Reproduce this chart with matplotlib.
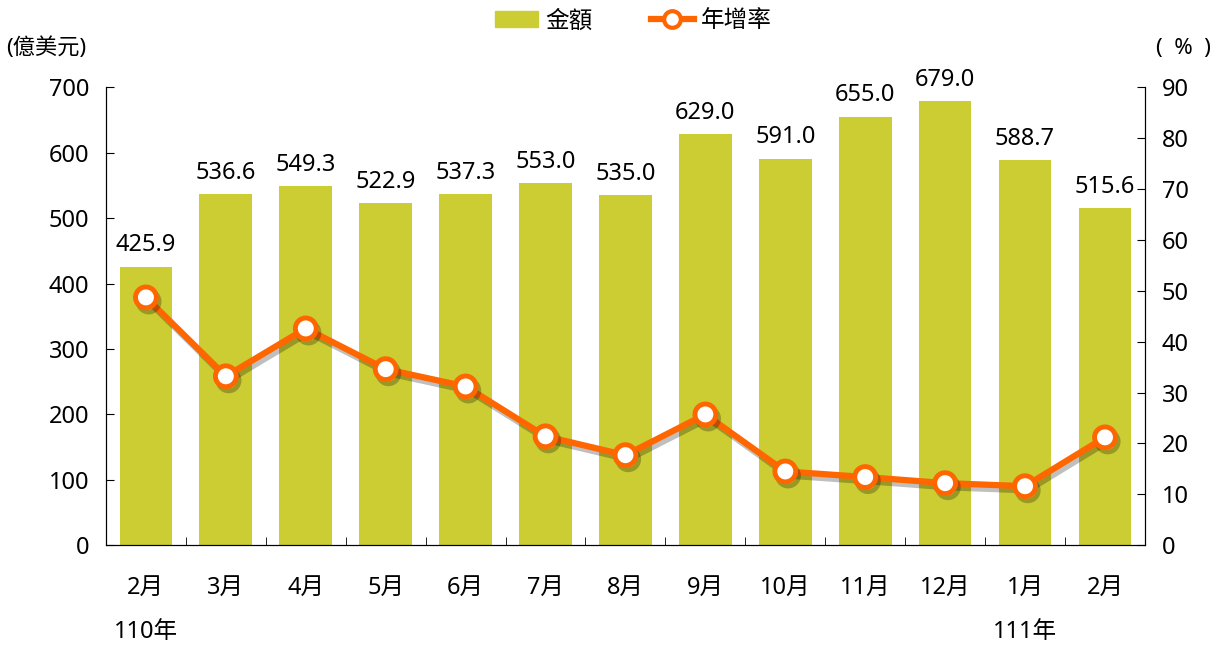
import matplotlib.pyplot as plt
import matplotlib.patheffects as pe
from matplotlib.lines import Line2D
from matplotlib.patches import Patch
import numpy as np

plt.rcParams['font.family'] = ['Noto Sans', 'Noto Sans CJK TC', 'DejaVu Sans']

months = ["2月", "3月", "4月", "5月", "6月", "7月", "8月", "9月", "10月", "11月", "12月", "1月", "2月"]
years = {0: "110年", 11: "111年"}
amount = [425.9, 536.6, 549.3, 522.9, 537.3, 553.0, 535.0, 629.0, 591.0, 655.0, 679.0, 588.7, 515.6]
growth = [48.7, 33.2, 42.6, 34.6, 31.2, 21.4, 17.7, 25.7, 14.5, 13.4, 12.2, 11.6, 21.2]

bar_color = "#CCCC33"
line_color = "#FF6600"
fs = 17

fig = plt.figure(figsize=(12.18, 6.46), dpi=100)
ax = fig.add_axes([0.087, 0.156, 0.853, 0.709])
ax2 = ax.twinx()

x = np.arange(len(months))
ax.bar(x, amount, width=0.66, color=bar_color, zorder=2)
for xi, v in zip(x, amount):
    ax.text(xi, v + 14, f"{v:.1f}", ha="center", va="bottom", fontsize=fs)

ax.set_xlim(-0.5, len(months) - 0.5)
ax.set_ylim(0, 700)
ax.set_yticks(range(0, 701, 100))
ax2.set_ylim(0, 90)
ax2.set_yticks(range(0, 91, 10))

ax2.plot(x, growth, color=line_color, lw=4.5, marker="o", ms=15,
         mfc="white", mec=line_color, mew=3.5, zorder=3,
         path_effects=[pe.SimpleLineShadow(offset=(2, -3), alpha=0.25, shadow_color="black"), pe.Normal()])

ax.set_xticks(x)
ax.set_xticklabels(months, fontsize=fs)
ax.set_xticks(np.arange(-0.5, len(months), 1), minor=True)
ax.tick_params(axis="x", which="major", length=0, pad=22)
ax.tick_params(axis="x", which="minor", direction="in", length=6)
ax.tick_params(axis="y", direction="in", length=6, labelsize=fs, pad=12)
ax2.tick_params(axis="y", direction="in", length=6, labelsize=fs, pad=12)

for i, t in years.items():
    ax.text(i, -0.19, t, transform=ax.get_xaxis_transform(), ha="center", va="center", fontsize=fs)

for a in (ax, ax2):
    a.spines["top"].set_visible(False)

fig.text(0.005, 0.925, "(億美元)", fontsize=fs - 1, ha="left", va="center")
fig.text(0.994, 0.925, "(  %  )", fontsize=fs - 1, ha="right", va="center")

handles = [Patch(color=bar_color, label="金額"),
           Line2D([], [], color=line_color, lw=4.5, marker="o", ms=12, mfc="white", mec=line_color, mew=3, label="年增率")]
fig.legend(handles=handles, loc="center", bbox_to_anchor=(0.52, 0.967), ncol=2, frameon=False,
           fontsize=fs, handlelength=1.8, columnspacing=2.5, handletextpad=0.3)

fig.savefig("out.png", dpi=100)
